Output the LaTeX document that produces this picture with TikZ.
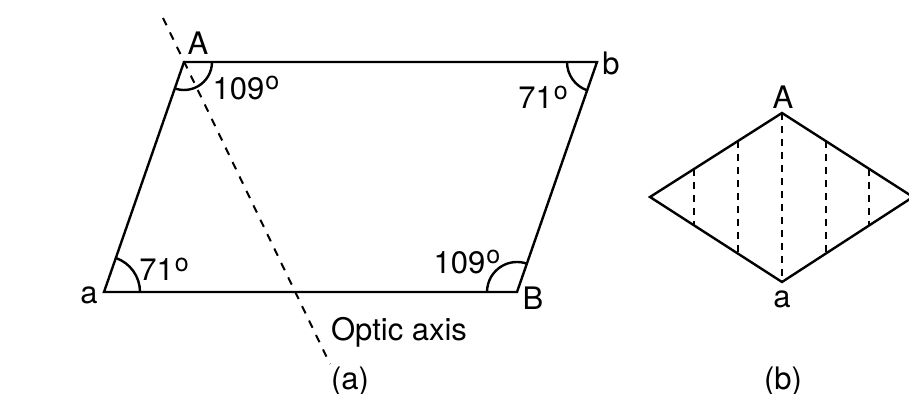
\documentclass[tikz,border=0pt]{standalone}
\usepackage{fontspec}
\setmainfont{TeX Gyre Heros}
\usetikzlibrary{calc}
\newcommand{\dego}{\kern0.5pt\raisebox{4.6pt}{\fontsize{12.5}{12.5}\selectfont o}}

\begin{document}
\begin{tikzpicture}[x=0.5pt,y=0.5pt,line width=1.2pt,
	lbl/.style={font=\fontsize{15.5}{18}\selectfont, inner sep=0pt},
	axisline/.style={line width=1pt, dash pattern=on 4pt off 4pt},
	hatch/.style={line width=0.9pt, dash pattern=on 3.5pt off 3pt}]
	\useasboundingbox (0,0) rectangle (909,394);
	\clip (0,0) rectangle (909,394);
	% (a) the rhomb in section
	\coordinate (a) at (104,102);
	\coordinate (B) at (517,102);
	\coordinate (b) at (597,332);
	\coordinate (A) at (184,332);
	\draw (a) -- (B) -- (b) -- (A) -- cycle;
	\draw (a) ++(36,0) arc[start angle=0, end angle=70.8, radius=36];
	\draw (A) ++(28,0) arc[start angle=360, end angle=250.8, radius=28];
	\draw (b) ++(-30,0) arc[start angle=180, end angle=250.8, radius=30];
	\draw (B) ++(-30,0) arc[start angle=180, end angle=70.8, radius=30];
	\coordinate (axtop) at (163,376);
	\coordinate (axbot) at (330,30);
	\draw[axisline] (axtop) -- (axbot);
	\node[lbl] (lA) at (198,351) {A};
	\node[lbl] (lb) at (611,331) {b};
	\node[lbl] (la) at (89,99) {a};
	\node[lbl] (lB) at (533,96) {B};
	\node[lbl] (angA) at (246,306) {109\dego};
	\node[lbl] (angb) at (543,297) {71\dego};
	\node[lbl] (anga) at (164,125) {71\dego};
	\node[lbl] (angB) at (467,132) {109\dego};
	\node[lbl] (optic) at (399,62) {Optic axis};
	\node[lbl] (capa) at (350,13) {(a)};
	% (b) the end face
	\coordinate (At) at (782,281);
	\coordinate (ab) at (782,112);
	\coordinate (L) at (650,197);
	\coordinate (R) at (913,197);
	\draw (L) -- (At) -- (R) -- (ab) -- cycle;
	\draw[hatch] (At) -- (ab);
	\draw[hatch] ($(L)!1/3!(At)$) -- ($(L)!1/3!(ab)$);
	\draw[hatch] ($(L)!2/3!(At)$) -- ($(L)!2/3!(ab)$);
	\draw[hatch] ($(R)!1/3!(At)$) -- ($(R)!1/3!(ab)$);
	\draw[hatch] ($(R)!2/3!(At)$) -- ($(R)!2/3!(ab)$);
	\node[lbl] (lAt) at (783,297) {A};
	\node[lbl] (lab) at (782,95) {a};
	\node[lbl] (capb) at (783,13) {(b)};
\end{tikzpicture}
\end{document}
